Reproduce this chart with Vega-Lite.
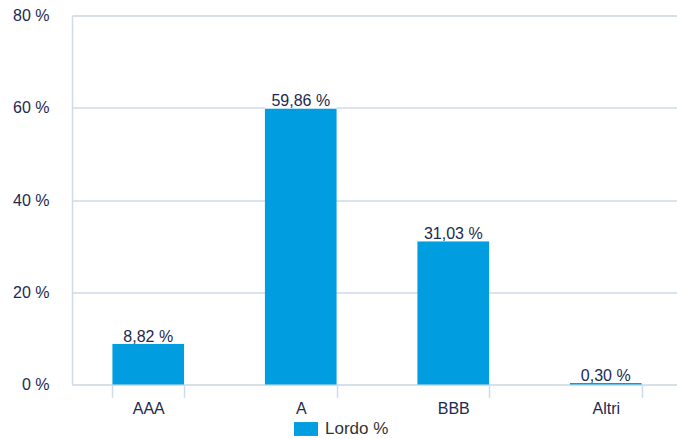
{
  "$schema": "https://vega.github.io/schema/vega-lite/v6.json",
  "width": 610,
  "height": 369,
  "autosize": {"type": "none"},
  "padding": {"left": 72, "top": 15.5, "right": 0, "bottom": 54.5},
  "background": "white",
  "data": {
    "values": [
      {"rating": "AAA", "value": 8.82, "serie": "Lordo %"},
      {"rating": "A", "value": 59.86, "serie": "Lordo %"},
      {"rating": "BBB", "value": 31.03, "serie": "Lordo %"},
      {"rating": "Altri", "value": 0.30, "serie": "Lordo %"}
    ]
  },
  "transform": [
    {"calculate": "replace(format(datum.value, '.2f'), '.', ',') + ' %'", "as": "label"}
  ],
  "encoding": {
    "x": {
      "field": "rating",
      "type": "nominal",
      "sort": null,
      "scale": {"paddingInner": 0.53, "paddingOuter": 0.265},
      "axis": {
        "title": null,
        "domain": false,
        "labelAngle": 0,
        "tickBand": "extent",
        "tickSize": 13,
        "tickWidth": 1.5,
        "tickColor": "#cfdbe8",
        "labelPadding": 3,
        "labelFontSize": 16,
        "labelFont": "Liberation Sans",
        "labelColor": "#1b2a4e"
      }
    }
  },
  "layer": [
    {
      "mark": {"type": "bar", "color": "#009ee0"},
      "encoding": {
        "y": {
          "field": "value",
          "type": "quantitative",
          "scale": {"domain": [0, 80], "nice": false},
          "axis": {
            "title": null,
            "values": [0, 20, 40, 60, 80],
            "labelExpr": "datum.value + ' %'",
            "ticks": false,
            "domain": true,
            "domainColor": "#cfdbe8",
            "domainWidth": 1.5,
            "grid": true,
            "gridColor": "#cfdbe8",
            "gridWidth": 1.5,
            "labelPadding": 23,
            "labelFontSize": 16,
            "labelFont": "Liberation Sans",
            "labelColor": "#1b2a4e"
          }
        },
        "color": {
          "field": "serie",
          "type": "nominal",
          "scale": {"range": ["#009ee0"]},
          "legend": {
            "title": null,
            "orient": "none",
            "legendX": 222,
            "legendY": 401.5,
            "padding": 0,
            "symbolType": "M-1,-0.58H1V0.58H-1Z",
            "symbolSize": 576,
            "symbolStrokeWidth": 0,
            "labelOffset": 7,
            "labelFontSize": 17,
            "labelFont": "Liberation Sans",
            "labelColor": "#333333"
          }
        }
      }
    },
    {
      "mark": {
        "type": "point",
        "shape": "M-2,-0.5H2V0.5H-2Z",
        "size": 1296,
        "filled": true,
        "color": "white",
        "opacity": 1,
        "strokeWidth": 0,
        "yOffset": -9
      },
      "encoding": {
        "y": {"field": "value", "type": "quantitative"}
      }
    },
    {
      "mark": {
        "type": "text",
        "baseline": "alphabetic",
        "dy": -2,
        "fontSize": 16,
        "font": "Liberation Sans",
        "color": "#1b2a4e"
      },
      "encoding": {
        "y": {"field": "value", "type": "quantitative"},
        "text": {"field": "label"}
      }
    }
  ]
}
